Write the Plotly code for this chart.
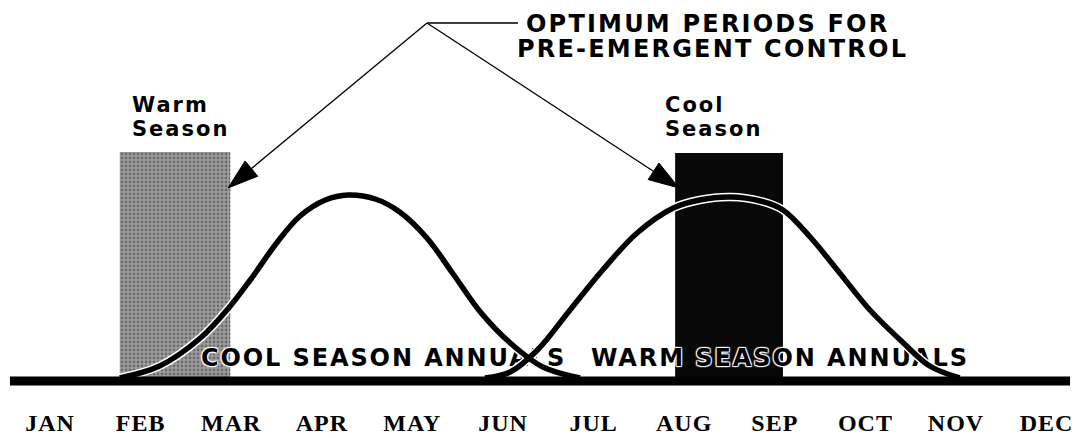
import plotly.graph_objects as go

# ---------------- data ----------------
months = ["JAN", "FEB", "MAR", "APR", "MAY", "JUN",
          "JUL", "AUG", "SEP", "OCT", "NOV", "DEC"]

# germination curves: x in months (0 = JAN), y = relative activity
cool_x = [0.77, 1.21, 1.66, 1.99, 2.21, 2.51, 2.76, 3.04, 3.29, 3.59, 3.86,
          4.16, 4.45, 4.75, 5.08, 5.44, 5.85]
cool_y = [0, 12, 40, 72, 98, 136, 162, 178, 183, 179, 166, 140, 104, 66, 35, 11, 0]

warm_x = [4.80, 5.08, 5.38, 5.74, 6.10, 6.48, 6.88, 7.17, 7.51, 7.84, 8.09,
          8.39, 8.69, 9.05, 9.42, 9.71, 10.04]
warm_y = [0, 6, 28, 68, 108, 145, 170, 178, 181, 177, 168, 141, 108, 68, 35, 12, 0]

# optimum pre-emergent control periods
period_names = ["Warm Season", "Cool Season"]
period_start = [0.77, 6.90]
period_end = [1.99, 8.09]
period_height = [226, 225]
period_colors = ["#8c8c8c", "#080808"]

curve_labels = ["COOL SEASON ANNUALS", "WARM SEASON ANNUALS"]
title_lines = ["OPTIMUM PERIODS FOR", "PRE-EMERGENT CONTROL"]

# ---------------- layout helpers (window pixel -> data) ----------------
OFF = 8                       # page body margin of the html page
WIN_W, WIN_H = 1085, 438
W, H = WIN_W - OFF, WIN_H - OFF
MB = 35
X0, DX = 50.0, 90.6           # window pixel x of JAN, pixels per month
Y0 = 378.0                    # window pixel y of curve zero
PLOT_BOTTOM = OFF + H - MB    # window pixel y of plot-area bottom


def px2x(px):
    return (px - X0) / DX


def py2y(py):
    return Y0 - py


SANS = "DejaVu Sans"
SERIF = "Liberation Serif"


def spaced(txt, sp):
    return f'<span style="letter-spacing:{sp}px">{txt}</span>'


fig = go.Figure()

# period bars
for name, s, e, h, c in zip(period_names, period_start, period_end,
                            period_height, period_colors):
    pat = dict(shape=".", fgcolor="#3a3a3a", bgcolor="#9e9e9e",
               size=4, solidity=0.4) if c != "#080808" else None
    fig.add_trace(go.Bar(
        x=[(s + e) / 2], y=[h], width=[e - s], base=[0],
        marker=dict(color=c, line=dict(width=0), pattern=pat),
        name=name, showlegend=False, hoverinfo="skip"))

# curve labels (under the curves)
halo = ("1px 1px 1px #fff, -1px -1px 1px #fff, 1px -1px 1px #fff, "
        "-1px 1px 1px #fff")
label_px = [383.5, 780.0]
for lab, lpx in zip(curve_labels, label_px):
    fig.add_trace(go.Scatter(
        x=[px2x(lpx)], y=[py2y(360)], mode="text",
        text=[spaced(lab, 1.9)], textposition="middle center",
        textfont=dict(family=SANS, size=24, color="#000", weight="bold",
                      shadow=halo),
        showlegend=False, hoverinfo="skip"))

# curves: white outline then black stroke
for xs, ys in [(cool_x, cool_y), (warm_x, warm_y)]:
    fig.add_trace(go.Scatter(x=xs, y=ys, mode="lines",
                             line=dict(color="#fff", width=8.5, shape="spline"),
                             showlegend=False, hoverinfo="skip"))
for xs, ys in [(cool_x, cool_y), (warm_x, warm_y)]:
    fig.add_trace(go.Scatter(x=xs, y=ys, mode="lines",
                             line=dict(color="#000", width=5.5, shape="spline"),
                             showlegend=False, hoverinfo="skip"))

# leader lines and arrows
apex = (427, 23)
fig.add_trace(go.Scatter(x=[px2x(apex[0]), px2x(518)],
                         y=[py2y(apex[1]), py2y(apex[1])], mode="lines",
                         line=dict(color="#000", width=1.3),
                         showlegend=False, hoverinfo="skip"))
for tip in [(228, 188), (679, 188)]:
    fig.add_trace(go.Scatter(
        x=[px2x(apex[0]), px2x(tip[0])], y=[py2y(apex[1]), py2y(tip[1])],
        mode="lines+markers",
        line=dict(color="#000", width=1.3),
        marker=dict(symbol="arrow", size=[0, 32], color="#000", opacity=1,
                    angleref="previous", line=dict(width=1, color="#000")),
        showlegend=False, hoverinfo="skip"))

# baseline
fig.add_shape(type="line", xref="x", yref="y", layer="above",
              x0=px2x(10), x1=px2x(1070), y0=py2y(381), y1=py2y(381),
              line=dict(color="#000", width=9))

# text annotations
ann = []
title_px = [707, 712]
title_py = [23.5, 48.5]
for t, tx, ty in zip(title_lines, title_px, title_py):
    ann.append(dict(x=px2x(tx), y=py2y(ty), xref="x", yref="y",
                    text=spaced(t, 2.2), showarrow=False,
                    xanchor="center", yanchor="middle",
                    font=dict(family=SANS, size=24, color="#000",
                              weight="bold")))
season_labels = [("Warm", "Season", 130), ("Cool", "Season", 663)]
for l1, l2, lx in season_labels:
    for t, ty in [(l1, 104.5), (l2, 129)]:
        ann.append(dict(x=px2x(lx), y=py2y(ty), xref="x", yref="y",
                        text=spaced(t, 2), showarrow=False,
                        xanchor="left", yanchor="middle",
                        font=dict(family=SANS, size=21, color="#000",
                                  weight="bold")))

fig.update_layout(
    width=W, height=H,
    margin=dict(l=0, r=0, t=0, b=MB, pad=0),
    paper_bgcolor="#fff", plot_bgcolor="#fff",
    barmode="overlay", showlegend=False,
    annotations=ann,
    xaxis=dict(range=[px2x(OFF), px2x(OFF + W)], tickmode="array",
               tickvals=list(range(len(months))),
               ticktext=[spaced(m, 1) for m in months],
               tickfont=dict(family=SERIF, size=24, color="#000",
                             weight="bold"),
               showgrid=False, zeroline=False, showline=False, ticks="",
               ticklabelstandoff=3, fixedrange=True, automargin=False),
    yaxis=dict(range=[py2y(PLOT_BOTTOM), py2y(OFF)], visible=False,
               showgrid=False, zeroline=False, fixedrange=True),
)

fig.write_html("out.html")
